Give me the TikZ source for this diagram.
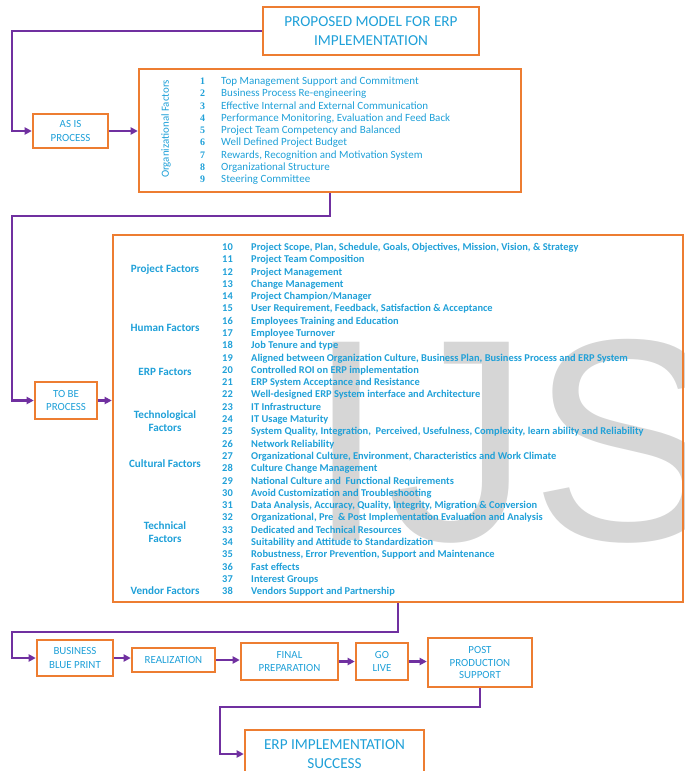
\documentclass[tikz,border=0pt]{standalone}
\usepackage{fontspec}
\setmainfont{Carlito}
\newfontfamily\numfont{Liberation Serif}
\newfontfamily\markfont{Liberation Sans}
\usetikzlibrary{arrows.meta}
\definecolor{ModelOrange}{HTML}{ED7D31}
\definecolor{ModelPurple}{HTML}{7030A0}
\definecolor{ModelBlue}{HTML}{1FA0D8}
\definecolor{MarkGray}{HTML}{D6D6D6}

\tikzset{
  phase/.style={draw=ModelOrange, line width=2.1pt, align=center, text=ModelBlue, inner sep=0pt},
  boxsize/.style 2 args={minimum width=#1*0.03cm, minimum height=#2*0.03cm},
  small/.style={font=\fontsize{9.3}{11.8}\selectfont},
  big/.style={font=\fontsize{13}{16}\selectfont},
  factor/.style={font=\bfseries\fontsize{9.5}{11}\selectfont, text=ModelBlue, align=center},
  flow/.style={ModelPurple, line width=2.1pt, -{Triangle[length=6pt,width=6pt]}},
}

\begin{document}
\begin{tikzpicture}[x=0.03cm, y=-0.03cm]
  % Frame of the page
  \useasboundingbox (0,0) rectangle (685,771);

  % Watermark
  \node[font=\markfont\fontsize{246}{246}\selectfont, text=MarkGray, anchor=base west, inner sep=0pt] (mark) at (306,540) {IJS};

  % Rail on the left for the connectors
  \coordinate (rail) at (12,0);

  % Title
  \node[phase, big, boxsize={216}{48}] (title) at (371,31) {PROPOSED MODEL FOR ERP\\IMPLEMENTATION};

  % As is process
  \node[phase, small, boxsize={75}{34}] (asis) at (70.5,131) {AS IS\\PROCESS};

  % Organizational factors
  \node[phase, boxsize={382}{123}] (org) at (330,130.5) {};
  \node[rotate=90, font=\fontsize{9.3}{10}\selectfont, text=ModelBlue] (orglabel) at (166,129) {Organizational Factors};
  \foreach \n/\txt in {1/Top Management Support and Commitment,
      2/Business Process Re-engineering,
      3/Effective Internal and External Communication,
      4/{Performance Monitoring, Evaluation and Feed Back},
      5/Project Team Competency and Balanced,
      6/Well Defined Project Budget,
      7/{Rewards, Recognition and Motivation System},
      8/Organizational Structure,
      9/Steering Committee} {
    \node[font=\numfont\bfseries\fontsize{8.5}{10}\selectfont, text=ModelBlue, anchor=base west, inner sep=0pt] (onum\n) at (200,{84.5+12.25*(\n-1)}) {\n};
    \node[font=\fontsize{9.4}{10}\selectfont, text=ModelBlue, anchor=base west, inner sep=0pt] (oitem\n) at (221,{84.5+12.25*(\n-1)}) {\txt};
  }

  % To be process
  \node[phase, small, boxsize={62}{37}] (tobe) at (66,400.5) {TO BE\\PROCESS};

  % Critical success factors
  \node[phase, boxsize={570}{367}] (csf) at (398,418.5) {};
  \node[factor] (fproject) at (165,270) {Project Factors};
  \node[factor] (fhuman) at (165,327.5) {Human Factors};
  \node[factor] (ferp) at (165,372) {ERP Factors};
  \node[factor] (ftech) at (165,421.5) {Technological\\Factors};
  \node[factor] (fculture) at (165,464) {Cultural Factors};
  \node[factor] (ftechnical) at (165,532.5) {Technical\\Factors};
  \node[factor] (fvendor) at (165,591) {Vendor Factors};
  \foreach \n/\txt in {10/{Project Scope, Plan, Schedule, Goals, Objectives, Mission, Vision, \& Strategy},
      11/Project Team Composition,
      12/Project Management,
      13/Change Management,
      14/{Project Champion/Manager},
      15/{User Requirement, Feedback, Satisfaction \& Acceptance},
      16/Employees Training and Education,
      17/Employee Turnover,
      18/Job Tenure and type,
      19/{Aligned between Organization Culture, Business Plan, Business Process and ERP System},
      20/Controlled ROI on ERP implementation,
      21/ERP System Acceptance and Resistance,
      22/Well-designed ERP System interface and Architecture,
      23/IT Infrastructure,
      24/IT Usage Maturity,
      25/{System Quality, Integration,\ \ Perceived, Usefulness, Complexity, learn ability and Reliability},
      26/Network Reliability,
      27/{Organizational Culture, Environment, Characteristics and Work Climate},
      28/Culture Change Management,
      29/National Culture and\ \ Functional Requirements,
      30/Avoid Customization and Troubleshooting,
      31/{Data Analysis, Accuracy, Quality, Integrity, Migration \& Conversion},
      32/{Organizational, Pre\ \ \& Post Implementation Evaluation and Analysis},
      33/Dedicated and Technical Resources,
      34/Suitability and Attitude to Standardization,
      35/{Robustness, Error Prevention, Support and Maintenance},
      36/Fast effects,
      37/Interest Groups,
      38/Vendors Support and Partnership} {
    \node[font=\bfseries\fontsize{8.9}{10}\selectfont, text=ModelBlue, anchor=base west, inner sep=0pt] (cnum\n) at (222,{250.5+12.29*(\n-10)}) {\n};
    \node[font=\bfseries\fontsize{8.9}{10}\selectfont, text=ModelBlue, anchor=base west, inner sep=0pt] (citem\n) at (251,{250.5+12.29*(\n-10)}) {\txt};
  }

  % Implementation phases
  \node[phase, small, boxsize={76}{36}] (blueprint) at (75,658) {BUSINESS\\BLUE PRINT};
  \node[phase, small, boxsize={83}{24}] (realize) at (173.5,660) {REALIZATION};
  \node[phase, small, boxsize={97}{37}] (final) at (289.5,661.5) {FINAL\\PREPARATION};
  \node[phase, small, boxsize={52}{37}] (golive) at (382,661.5) {GO\\LIVE};
  \node[phase, small, boxsize={104}{49}, font=\fontsize{9.3}{11}\selectfont] (post) at (480,662.5) {POST\\PRODUCTION\\SUPPORT};

  % Success
  \node[phase, big, boxsize={179}{48}] (success) at (334.5,754) {ERP IMPLEMENTATION\\SUCCESS};

  % Connectors
  \coordinate (bendorg) at (12,216);
  \coordinate (bendcsf) at (12,632);
  \coordinate (bendpost) at (220,707);
  \draw[flow] (title.west) -- (title.west -| rail) |- (asis.west);
  \draw[flow] (asis.east) -- (asis.east -| org.west);
  \draw[flow] (org.south) |- (bendorg) |- (tobe.west);
  \draw[flow] (tobe.east) -- (tobe.east -| csf.west);
  \draw[flow] (csf.south) |- (bendcsf) |- (blueprint.west);
  \draw[flow] (blueprint.east) -- (blueprint.east -| realize.west);
  \draw[flow] (realize.east) -- (realize.east -| final.west);
  \draw[flow] (final.east) -- (final.east -| golive.west);
  \draw[flow] (golive.east) -- (golive.east -| post.west);
  \draw[flow] (post.south) |- (bendpost) |- (success.west);
\end{tikzpicture}
\end{document}
